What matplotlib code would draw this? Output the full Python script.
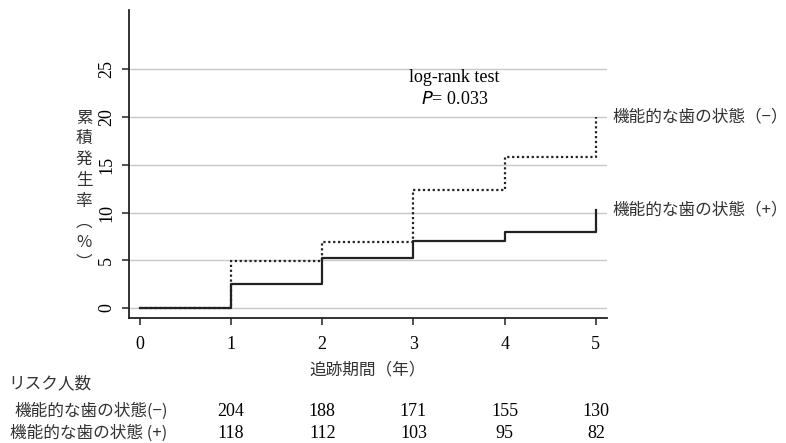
import matplotlib.pyplot as plt
import matplotlib.transforms as mtransforms

# step data (cumulative incidence, %)
years = [0, 1, 2, 3, 4, 5]
inc_minus = [0, 4.9, 6.9, 12.4, 15.8, 20.0]
inc_plus = [0, 2.5, 5.2, 7.0, 8.0, 10.3]

# number at risk at years 1..5
risk_years = [1, 2, 3, 4, 5]
risk_minus = [204, 188, 171, 155, 130]
risk_plus = [118, 112, 103, 95, 82]

label_minus = "機能的な歯の状態（−）"
label_plus = "機能的な歯の状態（+）"
row_minus = "機能的な歯の状態(−)"
row_plus = "機能的な歯の状態 (+)"
ylabel_chars = ["累", "積", "発", "生", "率", "︵", "%", "︶"]

jp = ["Noto Sans CJK JP", "DejaVu Sans"]
num = "Liberation Serif"

fig = plt.figure(figsize=(7.86, 4.43), dpi=100)
ax = fig.add_axes([0.164, 0.282, 0.608, 0.695])

# grid
for v in [0, 5, 10, 15, 20, 25]:
    ax.axhline(v, color="#c8c8c8", lw=1.0, zorder=1)

ax.step(years, inc_minus, where="post", color="#222222", lw=1.6,
        linestyle=(0, (1, 1.2)), zorder=3)
ax.step(years, inc_plus, where="post", color="#222222", lw=1.6, zorder=3)

ax.set_xlim(-0.12, 5.12)
ax.set_ylim(-1.05, 31.2)
ax.set_xticks(years)
ax.set_yticks([0, 5, 10, 15, 20, 25])
ax.set_xticklabels([str(y) for y in years], fontfamily=num, fontsize=13)
ax.set_yticklabels(["0", "5", "10", "15", "20", "25"], fontfamily=num,
                   fontsize=13, rotation=90, va="center")
ax.tick_params(direction="out", length=5, width=1.1, color="#222222")
ax.tick_params(axis="x", pad=8)
ax.tick_params(axis="y", pad=5)
for s in ["top", "right"]:
    ax.spines[s].set_visible(False)
for s in ["left", "bottom"]:
    ax.spines[s].set_linewidth(1.3)
    ax.spines[s].set_color("#222222")

ax.set_xlabel("追跡期間（年）", fontfamily=jp, fontsize=12, labelpad=6,
              color="#333333")

# vertical y label
for i, ch in enumerate(ylabel_chars):
    fig.text(84 / 786, 1 - (118 + i * 20.8) / 443, ch, fontfamily=jp,
             fontsize=12, ha="center", va="center", color="#333333")

# annotation
ax.text(3.45, 24.2, "log-rank test", fontfamily=num, fontsize=13,
        ha="center", va="center")
ax.text(3.45, 21.8, r"$\mathit{P}$" + "= 0.033", fontfamily=num, fontsize=13,
        ha="center", va="center")

# right side labels
trans_r = mtransforms.blended_transform_factory(fig.transFigure, ax.transData)
ax.text(612 / 786, inc_minus[-1], label_minus, fontfamily=jp, fontsize=12,
        ha="left", va="center", transform=trans_r, clip_on=False,
        color="#333333")
ax.text(612 / 786, inc_plus[-1], label_plus, fontfamily=jp, fontsize=12,
        ha="left", va="center", transform=trans_r, clip_on=False,
        color="#333333")

# risk table
fig.text(8 / 786, 1 - 384 / 443, "リスク人数", fontfamily=jp, fontsize=12,
         ha="left", va="center", color="#333333")
fig.text(14 / 786, 1 - 411 / 443, row_minus, fontfamily=jp,
         fontsize=12, ha="left", va="center", color="#333333")
fig.text(10 / 786, 1 - 433 / 443, row_plus, fontfamily=jp, fontsize=12,
         ha="left", va="center", color="#333333")
trans_t = mtransforms.blended_transform_factory(ax.transData, fig.transFigure)
for x, a, b in zip(risk_years, risk_minus, risk_plus):
    ax.text(x, 1 - 411 / 443, str(a), fontfamily=num, fontsize=13,
            ha="center", va="center", transform=trans_t, clip_on=False)
    ax.text(x, 1 - 433 / 443, str(b), fontfamily=num, fontsize=13,
            ha="center", va="center", transform=trans_t, clip_on=False)

fig.savefig("out.png", dpi=100)
